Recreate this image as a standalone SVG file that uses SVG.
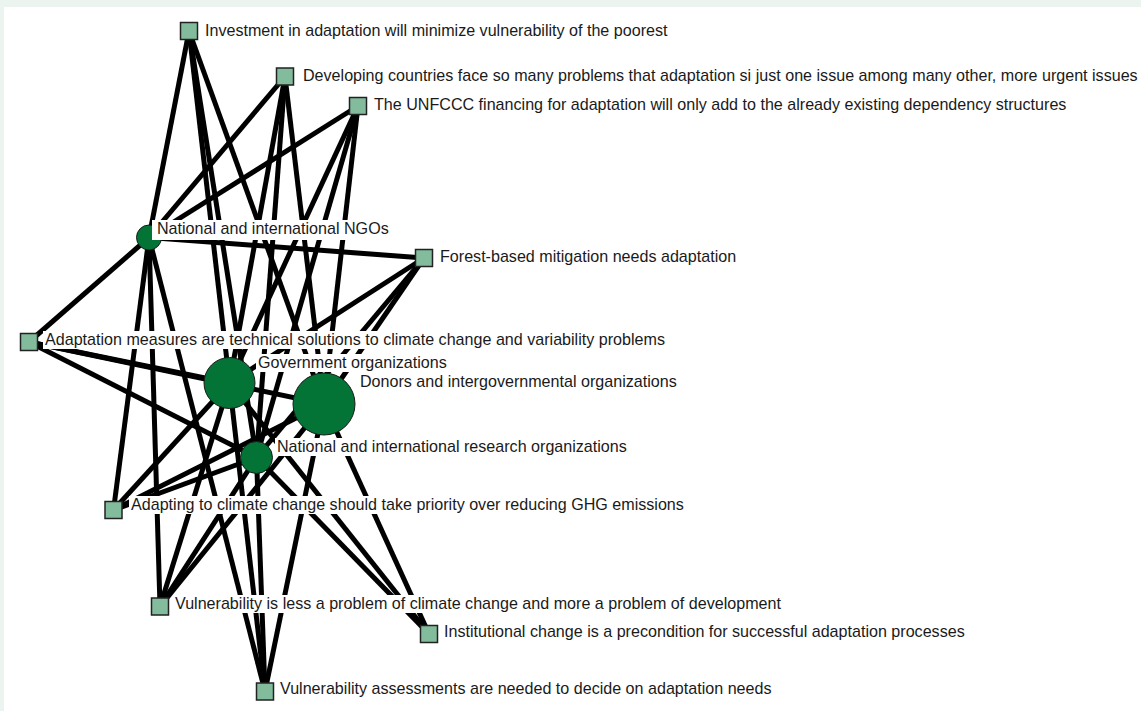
<svg xmlns="http://www.w3.org/2000/svg" width="1141" height="711" viewBox="0 0 1141 711">
<style>
.e{stroke:#000;stroke-width:5;fill:none}
.sq{fill:#82bc9c;stroke:#222;stroke-width:1.5}
.ac{fill:#037436;stroke:#1a1a1a;stroke-width:1}
.lb{fill:#fff}
.t{font-family:"Liberation Sans",Arial,Helvetica,sans-serif;font-size:16.1px;fill:#1a1a1a}
</style>
<rect x="0" y="0" width="1141" height="711" fill="#ebf4ef"/>
<rect x="4" y="7" width="1137" height="704" fill="#fff"/>
<g id="connectors">
<line class="e" x1="189" y1="31" x2="149" y2="237.5"/>
<line class="e" x1="189" y1="31" x2="229.5" y2="383"/>
<line class="e" x1="189" y1="31" x2="324" y2="404"/>
<line class="e" x1="189" y1="31" x2="256.5" y2="457.5"/>
<line class="e" x1="285" y1="76.5" x2="149" y2="237.5"/>
<line class="e" x1="285" y1="76.5" x2="229.5" y2="383"/>
<line class="e" x1="285" y1="76.5" x2="324" y2="404"/>
<line class="e" x1="285" y1="76.5" x2="256.5" y2="457.5"/>
<line class="e" x1="358" y1="106" x2="149" y2="237.5"/>
<line class="e" x1="358" y1="106" x2="229.5" y2="383"/>
<line class="e" x1="358" y1="106" x2="324" y2="404"/>
<line class="e" x1="358" y1="106" x2="256.5" y2="457.5"/>
<line class="e" x1="424" y1="258" x2="149" y2="237.5"/>
<line class="e" x1="424" y1="258" x2="229.5" y2="383"/>
<line class="e" x1="424" y1="258" x2="324" y2="404"/>
<line class="e" x1="424" y1="258" x2="256.5" y2="457.5"/>
<line class="e" x1="29" y1="342" x2="149" y2="237.5"/>
<line class="e" x1="29" y1="342" x2="229.5" y2="383"/>
<line class="e" x1="29" y1="342" x2="324" y2="404"/>
<line class="e" x1="29" y1="342" x2="256.5" y2="457.5"/>
<line class="e" x1="113.5" y1="510" x2="149" y2="237.5"/>
<line class="e" x1="113.5" y1="510" x2="229.5" y2="383"/>
<line class="e" x1="113.5" y1="510" x2="324" y2="404"/>
<line class="e" x1="113.5" y1="510" x2="256.5" y2="457.5"/>
<line class="e" x1="160" y1="606.5" x2="149" y2="237.5"/>
<line class="e" x1="160" y1="606.5" x2="229.5" y2="383"/>
<line class="e" x1="160" y1="606.5" x2="324" y2="404"/>
<line class="e" x1="160" y1="606.5" x2="256.5" y2="457.5"/>
<line class="e" x1="429" y1="634" x2="229.5" y2="383"/>
<line class="e" x1="429" y1="634" x2="324" y2="404"/>
<line class="e" x1="429" y1="634" x2="256.5" y2="457.5"/>
<line class="e" x1="265" y1="691.5" x2="149" y2="237.5"/>
<line class="e" x1="265" y1="691.5" x2="229.5" y2="383"/>
<line class="e" x1="265" y1="691.5" x2="324" y2="404"/>
<line class="e" x1="265" y1="691.5" x2="256.5" y2="457.5"/>
</g>
<g id="n-investment"><rect class="sq" x="180.5" y="22.5" width="17" height="17"/></g>
<g id="n-developing"><rect class="sq" x="276.5" y="68" width="17" height="17"/></g>
<g id="n-unfccc"><rect class="sq" x="349.5" y="97.5" width="17" height="17"/></g>
<g id="n-forest"><rect class="sq" x="415.5" y="249.5" width="17" height="17"/></g>
<g id="n-adaptmeasures"><rect class="sq" x="20.5" y="333.5" width="17" height="17"/></g>
<g id="n-adapting"><rect class="sq" x="105" y="501.5" width="17" height="17"/></g>
<g id="n-vulnless"><rect class="sq" x="151.5" y="598" width="17" height="17"/></g>
<g id="n-institutional"><rect class="sq" x="420.5" y="625.5" width="17" height="17"/></g>
<g id="n-vulnassess"><rect class="sq" x="256.5" y="683" width="17" height="17"/></g>
<g id="n-ngos"><circle class="ac" cx="149" cy="237.5" r="12.5"/></g>
<g id="n-government"><circle class="ac" cx="229.5" cy="383" r="25.5"/></g>
<g id="n-donors"><circle class="ac" cx="324" cy="404" r="31"/></g>
<g id="n-research"><circle class="ac" cx="256.5" cy="457.5" r="16"/></g>
<g id="labels">
<g id="l-investment"><rect class="lb" x="203" y="22" width="470" height="18"/><text class="t" x="205" y="36">Investment in adaptation will minimize vulnerability of the poorest</text></g>
<g id="l-developing"><rect class="lb" x="301" y="67" width="840" height="18"/><text class="t" x="303" y="81">Developing countries face so many problems that adaptation si just one issue among many other, more urgent issues</text></g>
<g id="l-unfccc"><rect class="lb" x="372" y="96" width="702" height="18"/><text class="t" x="374" y="110">The UNFCCC financing for adaptation will only add to the already existing dependency structures</text></g>
<g id="l-ngos"><rect class="lb" x="152" y="220" width="234" height="20"/><text class="t" x="157" y="234">National and international NGOs</text></g>
<g id="l-forest"><rect class="lb" x="438" y="248" width="304" height="18"/><text class="t" x="440" y="262">Forest-based mitigation needs adaptation</text></g>
<g id="l-adaptmeasures"><rect class="lb" x="43" y="331" width="624" height="18"/><text class="t" x="45" y="345">Adaptation measures are technical solutions to climate change and variability problems</text></g>
<g id="l-government"><rect class="lb" x="256" y="354" width="192" height="18"/><text class="t" x="258" y="368">Government organizations</text></g>
<g id="l-donors"><rect class="lb" x="358" y="373" width="320" height="18"/><text class="t" x="360" y="387">Donors and intergovernmental organizations</text></g>
<g id="l-research"><rect class="lb" x="275" y="438" width="353" height="18"/><text class="t" x="277" y="452">National and international research organizations</text></g>
<g id="l-adapting"><rect class="lb" x="129" y="496" width="561" height="18"/><text class="t" x="131" y="510">Adapting to climate change should take priority over reducing GHG emissions</text></g>
<g id="l-vulnless"><rect class="lb" x="173" y="595" width="612" height="18"/><text class="t" x="175" y="609">Vulnerability is less a problem of climate change and more a problem of development</text></g>
<g id="l-institutional"><rect class="lb" x="442" y="623" width="530" height="18"/><text class="t" x="444" y="637">Institutional change is a precondition for successful adaptation processes</text></g>
<g id="l-vulnassess"><rect class="lb" x="278" y="680" width="496" height="18"/><text class="t" x="280" y="694">Vulnerability assessments are needed to decide on adaptation needs</text></g>
</g>
</svg>
